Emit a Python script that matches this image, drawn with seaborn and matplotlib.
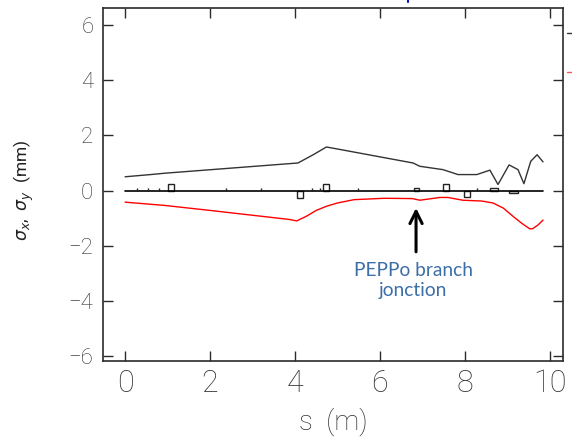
import matplotlib
matplotlib.use("Agg")
import matplotlib.pyplot as plt
from matplotlib.lines import Line2D
import seaborn as sns
import numpy as np

# Beam envelope along the line (horizontal above the axis, vertical mirrored below)
s_x = [0.00, 0.60, 0.94, 4.07, 4.43, 4.74, 5.06, 6.78, 6.94, 7.48, 7.84, 8.28,
       8.59, 8.78, 9.04, 9.25, 9.39, 9.55, 9.70, 9.84]
sigma_x = [0.50, 0.58, 0.63, 1.00, 1.30, 1.58, 1.49, 1.00, 0.88, 0.76, 0.58, 0.58,
           0.74, 0.22, 0.93, 0.76, 0.25, 1.06, 1.30, 1.04]

s_y = [0.00, 0.94, 2.00, 3.88, 4.04, 4.27, 4.50, 4.74, 5.00, 5.39, 6.10, 6.76, 6.94,
       7.41, 7.60, 7.95, 8.40, 8.66, 8.90, 9.13, 9.35, 9.53, 9.60, 9.72, 9.84]
sigma_y = [-0.42, -0.54, -0.72, -1.05, -1.10, -0.93, -0.72, -0.57, -0.45, -0.33,
           -0.28, -0.29, -0.35, -0.25, -0.25, -0.35, -0.38, -0.45, -0.63, -0.93,
           -1.20, -1.39, -1.38, -1.25, -1.07]

# Lattice: quadrupoles as boxes (sign = focusing plane), other elements as small ticks
quad_start = [1.00, 4.04, 4.65, 6.81, 7.49, 7.98, 8.60, 9.04]
quad_width = [0.14, 0.14, 0.16, 0.12, 0.14, 0.13, 0.18, 0.21]
quad_height = [0.25, -0.27, 0.25, 0.10, 0.25, -0.25, 0.10, -0.08]
marker_s = [0.29, 0.55, 0.81, 2.38, 3.20, 4.41, 4.60, 5.49, 8.28]
marker_h = 0.10
line_end = 9.84

junction_s = 6.85
junction_label = "PEPPo branch\njonction"

x_ticks = [0, 2, 4, 6, 8, 10]
y_ticks = [-6, -4, -2, 0, 2, 4, 6]

sns.set_style("ticks")
plt.rcParams["font.family"] = ["Roboto", "DejaVu Sans"]
plt.rcParams["mathtext.fontset"] = "dejavusans"

fig = plt.figure(figsize=(5.72, 4.38), dpi=100)
ax = fig.add_axes([103 / 572, 1 - 361 / 438, 460 / 572, 353 / 438])

ink = "#2b2b2b"

sns.lineplot(x=s_x, y=sigma_x, ax=ax, color="#333333", lw=1.0, estimator=None, sort=False)
sns.lineplot(x=s_y, y=sigma_y, ax=ax, color="#ff0000", lw=1.0, estimator=None, sort=False)

# beam line axis with elements
ax.plot([0, line_end], [0, 0], color="black", lw=1.2)
ax.bar(quad_start, quad_height, width=quad_width, align="edge", fill=False,
       edgecolor="#222222", lw=1.0)
ax.vlines(marker_s, -0.02, marker_h, color="#222222", lw=1.0)

# junction arrow and note
ax.annotate("", xy=(junction_s, -0.63), xytext=(junction_s, -2.22),
            arrowprops=dict(arrowstyle="->", lw=2.2, color="black", mutation_scale=22,
                            shrinkA=0, shrinkB=0))
ax.text(6.78, -3.27, junction_label, ha="center", va="center", color="#3c6ea8",
        fontsize=13.8, family=["Lato", "DejaVu Sans"], linespacing=1.2)

ax.set_xlim(-0.52, 10.31)
ax.set_ylim(-6.18, 6.62)
ax.set_xticks(x_ticks)
ax.set_yticks(y_ticks)
ax.set_xticklabels([str(v) for v in x_ticks], fontsize=22, color="#333333",
                   fontweight="light")
ax.set_yticklabels([str(v).replace("-", "\u2212") for v in y_ticks], fontsize=16,
                   color="#333333", fontweight="light")
ax.tick_params(axis="both", direction="in", length=7, width=1.0, color=ink,
               top=True, right=True)
ax.tick_params(axis="x", pad=6)
ax.tick_params(axis="y", pad=7)
for sp in ax.spines.values():
    sp.set_visible(True)
    sp.set_color(ink)
    sp.set_linewidth(1.2)

fig.text(333 / 572, 1 - 422 / 438, "s  (m)", ha="center", va="center", fontsize=20,
         color="#333333", fontweight="light")
fig.text(24 / 572, 1 - 190 / 438, r"$\sigma_x$,  $\sigma_y$  (mm)", rotation=90,
         ha="center", va="center", fontsize=12.5, color="#222222")

# legend keys running off the right edge
fig.add_artist(Line2D([567 / 572, 1.0], [1 - 33 / 438] * 2, color="#333333", lw=1.0))
fig.add_artist(Line2D([567 / 572, 1.0], [1 - 72 / 438] * 2, color="#ff5555", lw=1.0))
fig.add_artist(Line2D([408 / 572] * 2, [1.0, 1 - 2 / 438], color="#1010d0", lw=1.5))

fig.savefig("out.png", dpi=100, facecolor="white")
